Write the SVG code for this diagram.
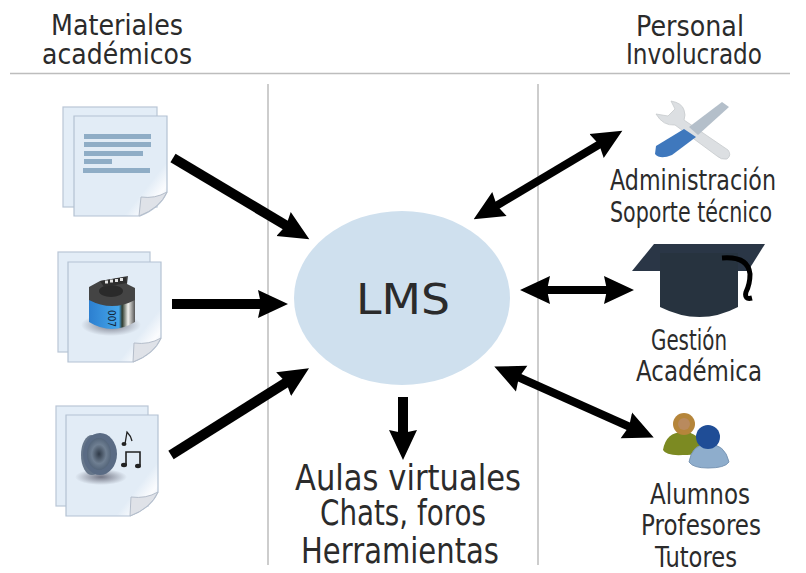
<svg xmlns="http://www.w3.org/2000/svg" width="806" height="573" viewBox="0 0 806 573">
<style>
text{font-family:"DejaVu Sans","Liberation Sans",sans-serif;fill:#2b2b2b;text-anchor:middle}
.t{font-size:28px}
.m{font-size:35px}
.rule{stroke:#bdbdbd;stroke-width:1.5;fill:none}
.back{fill:#e3edf7;stroke:#b9c6d6;stroke-width:1.2}
.front{fill:url(#page);stroke:#b4c2d3;stroke-width:1.2}
.fold{fill:#dfe2e8;stroke:#b4bdca;stroke-width:1}
.bar{fill:#8fadc6}
.arw{stroke:#000;stroke-width:10;fill:none;marker-end:url(#h)}
.arw2{stroke:#000;stroke-width:8;fill:none;marker-end:url(#h);marker-start:url(#hs)}
</style>
<defs>
<marker id="h" markerUnits="userSpaceOnUse" markerWidth="34" markerHeight="34" refX="4" refY="17" orient="auto"><path d="M0 3 L30 17 L0 31 L3 17Z" fill="#000"/></marker>
<marker id="hs" markerUnits="userSpaceOnUse" markerWidth="34" markerHeight="34" refX="26" refY="17" orient="auto"><path d="M30 3 L0 17 L30 31 L27 17Z" fill="#000"/></marker>
<linearGradient id="page" x1=".2" y1=".45" x2=".85" y2="1"><stop offset="0" stop-color="#e2ecf6"/><stop offset=".72" stop-color="#e2ecf6"/><stop offset=".9" stop-color="#fbfcfe"/><stop offset="1" stop-color="#e8eef6"/></linearGradient>
<linearGradient id="film" x1="0" x2="1"><stop offset="0" stop-color="#2c7fd0"/><stop offset=".65" stop-color="#45a6ea"/><stop offset=".72" stop-color="#2d3a2d"/><stop offset=".85" stop-color="#f2f2ee"/><stop offset="1" stop-color="#555"/></linearGradient>
<radialGradient id="spk"><stop offset="0" stop-color="#2f3a48"/><stop offset=".6" stop-color="#6f7f92"/><stop offset="1" stop-color="#54657a"/></radialGradient>
<radialGradient id="shadow"><stop offset="0" stop-color="#445" stop-opacity=".7"/><stop offset="1" stop-color="#445" stop-opacity="0"/></radialGradient>
</defs>

<g id="guides">
<path class="rule" d="M10 73.500H790M268 84V565M538 84V565"/>
</g>

<g id="titles">
<text class="t" x="117" y="35" textLength="132" lengthAdjust="spacingAndGlyphs">Materiales</text>
<text class="t" x="117" y="64" textLength="150" lengthAdjust="spacingAndGlyphs">académicos</text>
<text class="t" x="690" y="36" textLength="108" lengthAdjust="spacingAndGlyphs">Personal</text>
<text class="t" x="694" y="64" textLength="136" lengthAdjust="spacingAndGlyphs">Involucrado</text>
</g>

<g id="doc-texto">
<rect class="back" x="63" y="107" width="94" height="100"/>
<path class="front" d="M74 116H167V192Q160 208 140 216H74Z"/>
<path class="fold" d="M141 197Q155 199 167 192Q160 208 139 216Z"/>
<path class="bar" d="M84 134h67v5h-67zM84 142h67v5h-67zM84 151h59v5h-59zM84 159h28v5h-28zM83 168h67v5h-67z"/>
</g>

<g id="doc-video">
<rect class="back" x="58" y="252" width="92" height="100"/>
<path class="front" d="M68 262H161V338Q154 354 133 362H68Z"/>
<path class="fold" d="M134 343Q149 345 161 338Q154 354 133 362Z"/>
<ellipse cx="111" cy="325" rx="30" ry="11" fill="url(#shadow)"/>
<path d="M89 296H135V322Q112 336 89 322Z" fill="url(#film)"/>
<path d="M89 287L100 281L128 276L127 284L135 288V300Q112 312 89 300Z" fill="#444"/>
<ellipse cx="111" cy="291" rx="12" ry="6" fill="#2a2a2a"/>
<path d="M100 281L126 277L127 283L104 287Z" fill="#2e2e2e"/>
<path d="M105 280.500h3v3h-3zM110 279.500h3v3h-3zM115 279h3v3h-3zM120 278h3v3h-3z" fill="#e4e4e4"/>
<text x="0" y="0" transform="translate(108 310) rotate(90)" font-size="11" textLength="17" lengthAdjust="spacingAndGlyphs" style="text-anchor:start;fill:#123">007</text>
</g>

<g id="doc-audio">
<rect class="back" x="56" y="406" width="92" height="100"/>
<path class="front" d="M66 415H158V492Q151 508 130 516H66Z"/>
<path class="fold" d="M131 497Q146 499 158 492Q151 508 130 516Z"/>
<ellipse cx="101" cy="477" rx="26" ry="8" fill="url(#shadow)"/>
<ellipse cx="92" cy="455" rx="11" ry="20" fill="#66768a"/>
<ellipse cx="100" cy="454" rx="17" ry="21" fill="#5a6b84"/>
<ellipse cx="99" cy="454" rx="12" ry="16" fill="url(#spk)"/>
<path d="M125 444L127 432Q131 436 132 441" fill="none" stroke="#222" stroke-width="1.300"/>
<ellipse cx="124" cy="444" rx="2.500" ry="2" fill="#222"/>
<path d="M126 465V452H140V465" fill="none" stroke="#222" stroke-width="1.600"/>
<ellipse cx="124" cy="465" rx="3" ry="2.200" fill="#222"/>
<ellipse cx="138" cy="466" rx="3" ry="2.200" fill="#222"/>
</g>

<g id="connectors">
<path class="arw" d="M173 158L287 226"/>
<path class="arw" d="M172 304L262 304"/>
<path class="arw" d="M171 455L287 382"/>
<path class="arw2" d="M496 206L600 144"/>
<path class="arw2" d="M546 290L608 290"/>
<path class="arw2" d="M518 377L630 427"/>
<path class="arw" d="M403 397L403 434"/>
</g>

<g id="lms">
<ellipse cx="402" cy="298" rx="108" ry="87" fill="#cfe0ee"/>
<text x="403" y="314" font-size="43" textLength="94" lengthAdjust="spacingAndGlyphs">LMS</text>
</g>

<g id="herramientas">
<text class="m" x="408" y="490" textLength="226" lengthAdjust="spacingAndGlyphs">Aulas virtuales</text>
<text class="m" x="403" y="525" textLength="166" lengthAdjust="spacingAndGlyphs">Chats, foros</text>
<text class="m" x="400" y="563" textLength="198" lengthAdjust="spacingAndGlyphs">Herramientas</text>
</g>

<g id="administracion">
<path d="M671 101Q682 103 684 110Q686 115 684 120L728 150Q732 155 727 159Q721 160 717 156L675 125Q663 126 656 114L668 116L675 109Z" fill="#dcdfe2" stroke="#c6cacd" stroke-width=".8"/>
<path d="M689 127L722 102L729 107L698 135Z" fill="#b4bfca"/>
<path d="M656 146L684 129L696 137L672 155Q660 160 655 154Z" fill="#3f78bd"/>
<text class="t" x="693" y="190" textLength="166" lengthAdjust="spacingAndGlyphs">Administración</text>
<text class="t" x="691" y="222" textLength="162" lengthAdjust="spacingAndGlyphs">Soporte técnico</text>
</g>

<g id="gestion">
<path d="M654 244H765L748 271H632Z" fill="#2a3646"/>
<path d="M660 253H738V307Q700 327 660 307Z" fill="#27333f"/>
<path d="M722 258Q748 256 750 274Q750 284 746 292Q744 300 752 298" fill="none" stroke="#000" stroke-width="5"/>
<text class="t" x="689" y="350" textLength="76" lengthAdjust="spacingAndGlyphs">Gestión</text>
<text class="t" x="699" y="381" textLength="126" lengthAdjust="spacingAndGlyphs">Académica</text>
</g>

<g id="alumnos">
<path d="M663 450Q666 432 683 432Q700 432 703 449Q700 455 683 455Q666 456 663 450Z" fill="#7c8a22"/>
<circle cx="684" cy="424" r="11" fill="#b5853a"/>
<circle cx="684" cy="424" r="6" fill="#b98a5e"/>
<path d="M689 462Q692 444 708 444Q725 444 729 462Q725 468 708 468Q693 468 689 462Z" fill="#8eadcc" stroke="#7c98b6"/>
<circle cx="708" cy="437" r="12" fill="#1f4d96"/>
<text class="t" x="700" y="504" textLength="100" lengthAdjust="spacingAndGlyphs">Alumnos</text>
<text class="t" x="701" y="535" textLength="120" lengthAdjust="spacingAndGlyphs">Profesores</text>
<text class="t" x="696" y="567" textLength="82" lengthAdjust="spacingAndGlyphs">Tutores</text>
</g>
</svg>
